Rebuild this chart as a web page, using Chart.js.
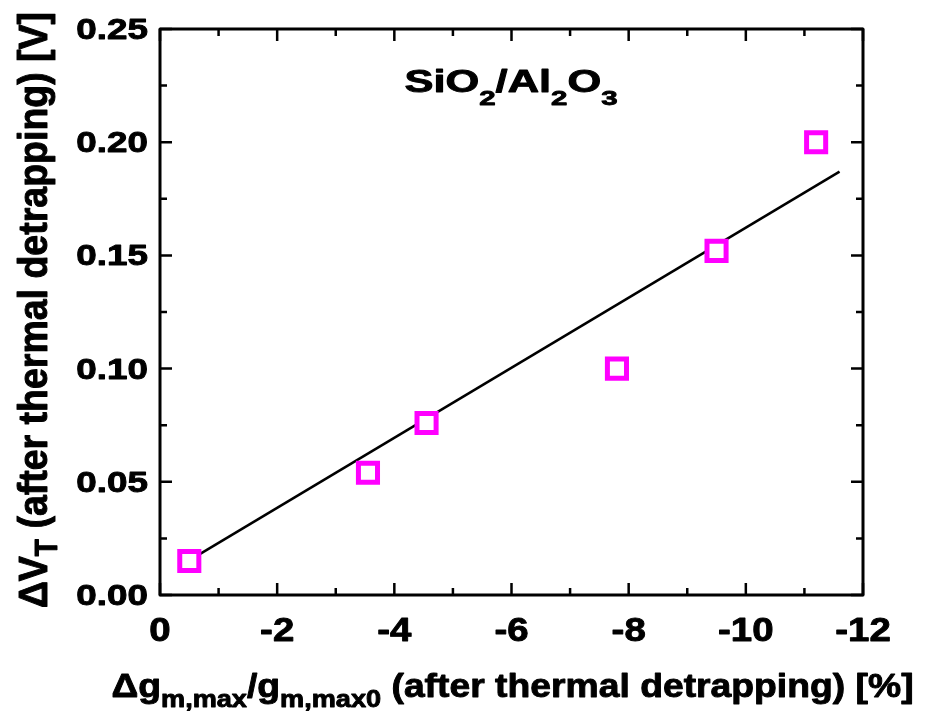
<!DOCTYPE html>
<html><head><meta charset="utf-8">
<script src="https://cdn.jsdelivr.net/npm/chart.js@4"></script>
<style>html,body{margin:0;padding:0;background:#fff}canvas{display:block}</style>
</head><body>
<canvas id="c" width="927" height="715"></canvas>
<script>
// ---- data ----
const xValues = [-0.5, -3.55, -4.55, -7.8, -9.5, -11.2];
const yValues = [0.015, 0.054, 0.076, 0.100, 0.152, 0.200];
const fitX = [-0.5, -11.6];
const fitY = [0.0153, 0.187];
const xTickValues = [0, -2, -4, -6, -8, -10, -12];
const yTickValues = [0.00, 0.05, 0.10, 0.15, 0.20, 0.25];
const xTitleParts = [["Δg", 0], ["m,max", 1], ["/g", 0], ["m,max0", 1], [" (after thermal detrapping) [%]", 0]];
const yTitleParts = [["ΔV", 0], ["T", 1], [" (after thermal detrapping) [V]", 0]];
const labelParts = [["SiO", 0], ["2", 1], ["/Al", 0], ["2", 1], ["O", 0], ["3", 1]];

const FONT = '"Liberation Sans", Arial, sans-serif';

function paint(ctx, t, x, y) {
  ctx.fillText(t, x, y);
  ctx.strokeText(t, x, y);
}

// draws mixed main/subscript text centred on local x=0, baseline at local y=0
function drawRich(ctx, parts, mainSize, subSize, subDrop) {
  let total = 0;
  const widths = parts.map(([t, s]) => {
    ctx.font = 'bold ' + (s ? subSize : mainSize) + 'px ' + FONT;
    const w = ctx.measureText(t).width; total += w; return w;
  });
  let cx = -total / 2;
  ctx.textBaseline = 'alphabetic';
  ctx.textAlign = 'left';
  parts.forEach(([t, s], i) => {
    ctx.font = 'bold ' + (s ? subSize : mainSize) + 'px ' + FONT;
    paint(ctx, t, cx, s ? subDrop : 0);
    cx += widths[i];
  });
}

function stretchedText(ctx, text, x, y, size, sx, align, baseline) {
  ctx.save();
  ctx.translate(x, y);
  ctx.scale(sx, 1);
  ctx.font = 'bold ' + size + 'px ' + FONT;
  ctx.textAlign = align;
  ctx.textBaseline = baseline;
  paint(ctx, text, 0, 0);
  ctx.restore();
}

const decorPlugin = {
  id: 'decor',
  afterDraw(chart) {
    const ctx = chart.ctx, a = chart.chartArea;
    const xs = chart.scales.x, ys = chart.scales.y;
    ctx.save();
    ctx.strokeStyle = '#000';
    ctx.fillStyle = '#000';
    ctx.lineJoin = 'round';
    // ticks (inward, mirrored on all four sides)
    ctx.lineWidth = 2.5;
    ctx.beginPath();
    for (let i = 0; i <= 12; i++) {
      const len = i % 2 === 0 ? 12 : 7;
      const px = xs.getPixelForValue(-i);
      ctx.moveTo(px, a.bottom); ctx.lineTo(px, a.bottom - len);
      ctx.moveTo(px, a.top); ctx.lineTo(px, a.top + len);
    }
    for (let i = 0; i <= 10; i++) {
      const len = i % 2 === 0 ? 12 : 7;
      const py = ys.getPixelForValue(i * 0.025);
      ctx.moveTo(a.left, py); ctx.lineTo(a.left + len, py);
      ctx.moveTo(a.right, py); ctx.lineTo(a.right - len, py);
    }
    ctx.stroke();
    // frame
    ctx.lineWidth = 3;
    ctx.strokeRect(a.left, a.top, a.right - a.left, a.bottom - a.top);
    // text (slightly emboldened)
    ctx.lineWidth = 0.9;
    xs.ticks.forEach(t => {
      stretchedText(ctx, String(t.value), xs.getPixelForValue(t.value), 641, 34, 1.13, 'center', 'alphabetic');
    });
    ys.ticks.forEach(t => {
      stretchedText(ctx, Number(t.value).toFixed(2), a.left - 12, ys.getPixelForValue(t.value) + 10, 29, 1.27, 'right', 'alphabetic');
    });
    // x title
    ctx.save();
    ctx.translate((a.left + a.right) / 2 + 1, 697);
    ctx.scale(1.13, 1);
    drawRich(ctx, xTitleParts, 33, 24, 10);
    ctx.restore();
    // y title
    ctx.save();
    ctx.translate(47, 310);
    ctx.rotate(-Math.PI / 2);
    ctx.scale(1, 1.1);
    drawRich(ctx, yTitleParts, 37.5, 28, 9);
    ctx.restore();
    // label
    ctx.save();
    ctx.translate(511, 92);
    ctx.scale(1.4, 1);
    drawRich(ctx, labelParts, 31, 21, 13);
    ctx.restore();
    ctx.restore();
  }
};

new Chart(document.getElementById('c'), {
  data: {
    datasets: [
      {
        type: 'scatter',
        data: xValues.map((x, i) => ({ x, y: yValues[i] })),
        pointStyle: 'rect',
        pointRadius: 13.5,
        pointHoverRadius: 13.5,
        pointBorderWidth: 5,
        borderColor: '#ff00ff',
        backgroundColor: '#ffffff',
        pointBackgroundColor: '#ffffff',
        pointBorderColor: '#ff00ff'
      },
      {
        type: 'line',
        data: fitX.map((x, i) => ({ x, y: fitY[i] })),
        borderColor: '#000',
        borderWidth: 2.5,
        pointRadius: 0,
        fill: false
      }
    ]
  },
  options: {
    responsive: false,
    animation: false,
    events: [],
    layout: { padding: { left: 0, top: 29, right: 64, bottom: 0 } },
    plugins: { legend: { display: false }, tooltip: { enabled: false } },
    scales: {
      x: {
        type: 'linear',
        min: -12, max: 0, reverse: true,
        afterFit: s => { s.height = 120; },
        afterBuildTicks: s => { s.ticks = xTickValues.map(v => ({ value: v })); },
        grid: { display: false, drawTicks: false },
        border: { display: false },
        ticks: { display: false }
      },
      y: {
        type: 'linear',
        min: 0, max: 0.25,
        afterFit: s => { s.width = 160; },
        afterBuildTicks: s => { s.ticks = yTickValues.map(v => ({ value: v })); },
        grid: { display: false, drawTicks: false },
        border: { display: false },
        ticks: { display: false }
      }
    }
  },
  plugins: [decorPlugin]
});
</script>
</body></html>
